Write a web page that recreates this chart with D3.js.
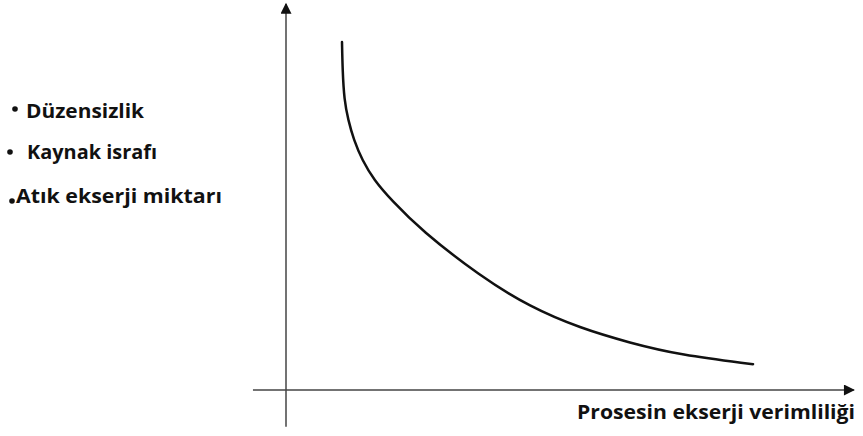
<!DOCTYPE html>
<html>
<head>
<meta charset="utf-8">
<script src="https://cdn.jsdelivr.net/npm/d3@7"></script>
<style>
  body { margin: 0; background: #fff; }
  text { font-family: "Open Sans", "Noto Sans", sans-serif; font-weight: bold; fill: #111; }
</style>
</head>
<body>
<div id="chart"></div>
<script>
const width = 863;
const height = 436;

// curve (arbitrary units, axis origin at 0,0)
const curveX = [1.0, 1.01, 1.04, 1.11, 1.21, 1.36, 1.57, 1.88, 2.41, 3.46, 4.36, 5.25, 6.14, 7.04, 8.34];
const curveY = [9.16, 8.42, 7.63, 7.11, 6.58, 6.05, 5.53, 5.0, 4.21, 3.0, 2.18, 1.63, 1.24, 0.92, 0.68];

const sideLabels = ['Düzensizlik', 'Kaynak israfı', 'Atık ekserji miktarı'];
const xLabel = 'Prosesin ekserji verimliliği';

const x = d3.scaleLinear().domain([0, 10]).range([286, 846]);
const y = d3.scaleLinear().domain([0, 10]).range([390, 10]);

const svg = d3.select('#chart')
    .append('svg')
    .attr('width', width)
    .attr('height', height);

svg.append('defs').append('marker')
    .attr('id', 'arrow')
    .attr('viewBox', '0 0 10 10')
    .attr('refX', 9)
    .attr('refY', 5)
    .attr('markerUnits', 'userSpaceOnUse')
    .attr('markerWidth', 12)
    .attr('markerHeight', 11)
    .attr('orient', 'auto')
    .append('path')
    .attr('d', 'M0,0L10,5L0,10Z')
    .attr('fill', '#111');

// axes
svg.append('line')
    .attr('x1', x(-0.59)).attr('y1', y(0))
    .attr('x2', x(10.14)).attr('y2', y(0))
    .attr('stroke', '#444').attr('stroke-width', 1.5)
    .attr('marker-end', 'url(#arrow)');

svg.append('line')
    .attr('x1', x(0)).attr('y1', y(-0.97))
    .attr('x2', x(0)).attr('y2', y(10.16))
    .attr('stroke', '#444').attr('stroke-width', 1.5)
    .attr('marker-end', 'url(#arrow)');

// curve
const pts = curveX.map((d, i) => [d, curveY[i]]);
const line = d3.line()
    .x(d => x(d[0]))
    .y(d => y(d[1]))
    .curve(d3.curveBasis);

svg.append('path')
    .datum(pts)
    .attr('d', line)
    .attr('fill', 'none')
    .attr('stroke', '#111')
    .attr('stroke-width', 2.5)
    .attr('stroke-linecap', 'round');

// bullet list on the left
const bulletX = [15, 10, 12];
const bulletY = [109, 152, 201];
const textX = [26, 27, 16];
const baseY = [118, 159, 203];
const textW = [118, 130, 206];

const items = svg.append('g').selectAll('g')
    .data(sideLabels)
    .join('g');

items.append('circle')
    .attr('cx', (d, i) => bulletX[i])
    .attr('cy', (d, i) => bulletY[i])
    .attr('r', 2.8)
    .attr('fill', '#111');

items.append('text')
    .attr('x', (d, i) => textX[i])
    .attr('y', (d, i) => baseY[i])
    .attr('font-size', 20)
    .attr('textLength', (d, i) => textW[i])
    .attr('lengthAdjust', 'spacingAndGlyphs')
    .text(d => d);

svg.append('text')
    .attr('x', 577)
    .attr('y', 419)
    .attr('font-size', 20)
    .attr('textLength', 278)
    .attr('lengthAdjust', 'spacingAndGlyphs')
    .text(xLabel);
</script>
</body>
</html>
